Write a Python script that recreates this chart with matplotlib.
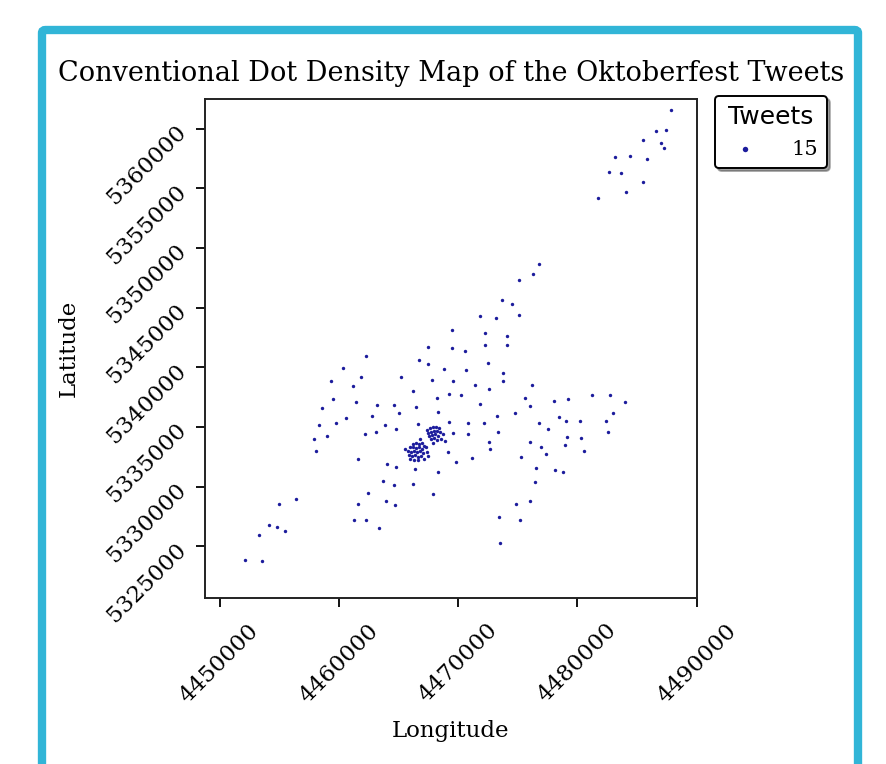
import matplotlib
matplotlib.use("Agg")
import matplotlib.pyplot as plt
from matplotlib.patches import FancyBboxPatch

# Tweet locations (projected metres)
tweet_lon = [
    # north-east arm
    4487840, 4486580, 4487420, 4485490, 4486970, 4487250, 4483120, 4484400,
    4485820, 4482670, 4483670, 4485510, 4484060, 4481740,
    # diagonal towards the centre
    4476750, 4476250, 4475070, 4473670, 4474540, 4471860, 4473150, 4475070,
    4472290, 4474120, 4472250, 4474090,
    # main body
    4469510, 4467450, 4469480, 4470550, 4462250, 4466720, 4467470, 4472530,
    4460320, 4468790, 4470630, 4473730, 4461860, 4465180, 4459340, 4467810,
    4469590, 4473760, 4461190, 4471390, 4476190, 4466190, 4472610, 4469230,
    4470210, 4459490, 4468230, 4475580, 4478060, 4479180, 4481190, 4482750,
    4461410, 4471800, 4484010, 4458560, 4463200, 4464650, 4466440, 4476000,
    4468290, 4474790, 4465020, 4483000, 4462800, 4460580, 4473250, 4478450,
    4458360, 4459760, 4463840, 4466610, 4469260, 4470800, 4472190, 4476750,
    4479040, 4480240, 4482410, 4477500, 4464820, 4463110, 4462190, 4459010,
    4457890, 4469590, 4470800, 4473360, 4482560, 4466800, 4468940, 4479100,
    4480290, 4476000, 4472610, 4478930, 4476940, 4458110, 4461630, 4464040,
    4464820, 4466380, 4468340, 4463700, 4464600, 4466220, 4467920, 4462470,
    4461630, 4463980, 4464710, 4461250, 4462250, 4463340, 4454960, 4456390,
    4454120, 4454840, 4455460, 4453340, 4452110, 4453590, 4469170, 4469820,
    4471130, 4472670, 4477340, 4475240, 4480550, 4476550, 4478120, 4478790,
    4476460, 4474820, 4476020, 4473400, 4475210, 4473530, 4467500,
    # cluster near the Theresienwiese
    4467390, 4467640, 4467890, 4468140, 4468390, 4467470, 4467720, 4467980,
    4468230, 4468480, 4468730, 4467560, 4467810, 4468060, 4468310, 4467720,
    4467980, 4468230, 4467890, 4468560,
    # second cluster
    4466220, 4466470, 4466720, 4466970, 4467140, 4465960, 4466220, 4466470,
    4466720, 4466970, 4465800, 4466050, 4466300, 4466550, 4466800, 4467050,
    4465880, 4466130, 4466380, 4466630, 4466890, 4465960, 4466300, 4466630,
    4467140, 4465540, 4467390, 4467300,
]
tweet_lat = [
    5361560, 5359830, 5359860, 5359070, 5358770, 5358400, 5357600, 5357730,
    5357430, 5356340, 5356260, 5355530, 5354670, 5354190,
    5348680, 5347820, 5347320, 5345640, 5345330, 5344320, 5344110, 5344410,
    5342870, 5342650, 5341910, 5341910,
    5343100, 5341730, 5341590, 5341390, 5340950, 5340640, 5340300, 5340340,
    5339920, 5339830, 5339800, 5339520, 5339210, 5339160, 5338830, 5338940,
    5338850, 5338850, 5338460, 5338540, 5338540, 5338040, 5338210, 5337760,
    5337700, 5337320, 5337430, 5337450, 5337200, 5337340, 5337680, 5337700,
    5337090, 5336950, 5337070, 5336610, 5336870, 5336870, 5336700, 5336730,
    5336280, 5336200, 5336150, 5336150, 5335890, 5335730, 5335920, 5335840,
    5335170, 5335360, 5335190, 5335270, 5335420, 5335360, 5335330, 5335360,
    5335480, 5335500, 5335530, 5334860, 5334860, 5334600, 5334410, 5334220,
    5334030, 5334470, 5334410, 5334620, 5334550, 5334020, 5333850, 5334130,
    5334100, 5333770, 5333740, 5333450, 5333360, 5333010, 5332340, 5331870,
    5331620, 5331500, 5331230, 5330450, 5330110, 5330200, 5329410, 5329490,
    5328520, 5328820, 5328440, 5327230, 5327230, 5326510, 5328520, 5328940,
    5326810, 5326590, 5326260, 5325950, 5323880, 5323770, 5332880, 5332040,
    5332370, 5333180, 5332710, 5332480, 5332960, 5331590, 5331420, 5331230,
    5330360, 5328570, 5328800, 5327480, 5327200, 5325300, 5332590,
    5334750, 5334910, 5335000, 5335000, 5334910, 5334490, 5334580, 5334660,
    5334660, 5334580, 5334410, 5334240, 5334330, 5334410, 5334240, 5333990,
    5334080, 5333910, 5333660, 5333990,
    5333570, 5333660, 5333570, 5333660, 5333410, 5333320, 5333320, 5333240,
    5333320, 5333150, 5332990, 5332900, 5332990, 5332900, 5332990, 5332820,
    5332650, 5332570, 5332650, 5332480, 5332570, 5332320, 5332230, 5332230,
    5332320, 5333150, 5332900, 5333320,
]
legend_label = "15"

x_ticks = [4450000, 4460000, 4470000, 4480000, 4490000]
y_ticks = [5325000, 5330000, 5335000, 5340000, 5345000, 5350000, 5355000, 5360000]

serif = "DejaVu Serif"
dot_color = "#1c1c9c"

fig = plt.figure(figsize=(8.87, 7.64), dpi=100)
fig.patch.set_facecolor("white")

# cyan frame around the figure
frame = FancyBboxPatch((42 / 887, -0.05), 816 / 887, 1.05 - 30 / 764,
                       boxstyle="round,pad=0,rounding_size=0.004",
                       transform=fig.transFigure, facecolor="none",
                       edgecolor="#31b5d7", linewidth=6, zorder=0)
fig.patches.append(frame)

ax = fig.add_axes([0.2308, 0.2173, 0.5547, 0.6531])
ax.scatter(tweet_lon, tweet_lat, s=6, color=dot_color, linewidths=0,
           label=legend_label)

ax.set_xlim(4448760, 4490000)
ax.set_ylim(5320670, 5362480)
ax.set_xticks(x_ticks)
ax.set_yticks(y_ticks)
ax.set_xticklabels([str(v) for v in x_ticks], rotation=45, fontsize=16.5,
                   family=serif)
ax.set_yticklabels([str(v) for v in y_ticks], rotation=45, fontsize=16.5,
                   family=serif, ha="right", va="center",
                   rotation_mode="anchor")
ax.tick_params(axis="x", length=6.5, width=1.3, pad=9)
ax.tick_params(axis="y", length=6.5, width=1.3, pad=9)
for sp in ax.spines.values():
    sp.set_linewidth(1.4)
    sp.set_color("#222222")

ax.set_title("Conventional Dot Density Map of the Oktoberfest Tweets",
             fontsize=19.5, family=serif, pad=13)
ax.set_xlabel("Longitude", fontsize=16.5, family=serif)
ax.set_ylabel("Latitude", fontsize=16.5, family=serif)
ax.xaxis.set_label_coords(0.5, -0.245)
ax.yaxis.set_label_coords(-0.255, 0.5)

leg = ax.legend(title="Tweets", loc="upper left",
                bbox_to_anchor=(715 / 887, 1 - 96 / 764),
                bbox_transform=fig.transFigure, frameon=True, shadow=True,
                fancybox=True, markerscale=1.6, borderaxespad=0,
                borderpad=0.45, handletextpad=1.2,
                prop={"family": serif, "size": 15})
leg.get_title().set_fontsize(18)
leg.get_title().set_family("DejaVu Sans")
leg.get_frame().set_edgecolor("black")
leg.get_frame().set_linewidth(1.4)

fig.savefig("out.png", dpi=100)
